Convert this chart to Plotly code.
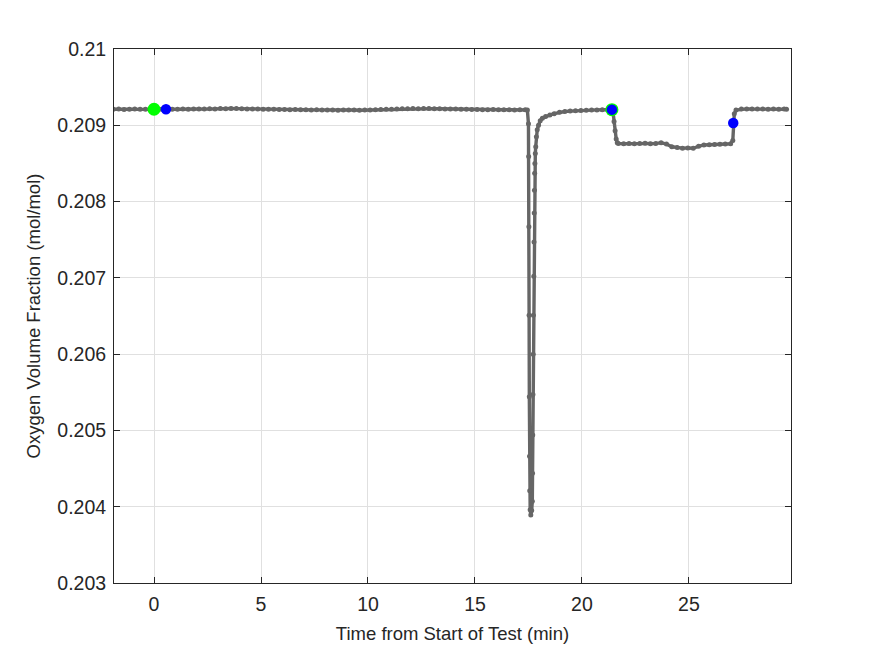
import plotly.graph_objects as go

# ---------------- data ----------------
# baseline before the dip (time in min, O2 volume fraction in mol/mol)
t_pre = [-1.9, -1.65, -1.4, -1.15, -0.9, -0.65, -0.4, -0.15,
         0.1, 0.35, 0.6, 0.85, 1.1, 1.35, 1.6, 1.85,
         2.1, 2.35, 2.6, 2.85, 3.1, 3.35, 3.6, 3.85,
         4.1, 4.35, 4.6, 4.85, 5.1, 5.35, 5.6, 5.85,
         6.1, 6.35, 6.6, 6.85, 7.1, 7.35, 7.6, 7.85,
         8.1, 8.35, 8.6, 8.85, 9.1, 9.35, 9.6, 9.85,
         10.1, 10.35, 10.6, 10.85, 11.1, 11.35, 11.6, 11.85,
         12.1, 12.35, 12.6, 12.85, 13.1, 13.35, 13.6, 13.85,
         14.1, 14.35, 14.6, 14.85, 15.1, 15.35, 15.6, 15.85,
         16.1, 16.35, 16.6, 16.85, 17.1, 17.35]
o2_pre = [0.20921, 0.209212, 0.209208, 0.20921, 0.209212, 0.209209, 0.209211, 0.20921,
          0.209212, 0.20921, 0.209208, 0.209211, 0.20921, 0.209213, 0.209211, 0.209212,
          0.209214, 0.209212, 0.209216, 0.209215, 0.20922, 0.209218, 0.209221, 0.209219,
          0.209217, 0.209214, 0.209212, 0.209213, 0.20921, 0.209211, 0.209209, 0.209208,
          0.209207, 0.209205, 0.209206, 0.209204, 0.209203, 0.209202, 0.209203, 0.2092,
          0.209199, 0.209201, 0.209198, 0.2092, 0.209199, 0.209201, 0.209198, 0.2092,
          0.209201, 0.209204, 0.209206, 0.209209, 0.209211, 0.209214, 0.209216, 0.209217,
          0.209219, 0.209218, 0.20922, 0.209219, 0.209218, 0.209217, 0.209215, 0.209214,
          0.209212, 0.20921, 0.209209, 0.209207, 0.209206, 0.209205, 0.209204, 0.209206,
          0.209205, 0.209203, 0.209204, 0.209202, 0.209203, 0.209205]

# dip and recovery
t_dip = [17.45, 17.50, 17.51, 17.52, 17.53, 17.54, 17.55, 17.56, 17.58, 17.61,
         17.65, 17.68, 17.69, 17.70, 17.71, 17.72, 17.73, 17.75, 17.76, 17.77,
         17.78, 17.79, 17.80, 17.82, 17.84, 17.87, 17.91, 17.97, 18.05, 18.15,
         18.3, 18.5, 18.7, 18.95, 19.2, 19.45, 19.7, 19.95, 20.2, 20.45,
         20.7, 20.95, 21.2, 21.4]
o2_dip = [0.20920, 0.20902, 0.20859, 0.20767, 0.20651, 0.20544, 0.20466, 0.20421, 0.20396, 0.20389,
          0.20395, 0.20407, 0.20444, 0.20494, 0.20547, 0.20600, 0.20651, 0.20702, 0.20747, 0.20785,
          0.20815, 0.20837, 0.20850, 0.20863, 0.20872, 0.20885, 0.20894, 0.20900, 0.20906, 0.209092,
          0.209115, 0.209135, 0.209152, 0.20917, 0.20918, 0.209186, 0.209191, 0.209195, 0.209198, 0.2092,
          0.209202, 0.209203, 0.209204, 0.209205]

# lowered plateau
t_low = [21.45, 21.5, 21.55, 21.6, 21.65, 21.7, 21.95, 22.2, 22.45, 22.7,
         22.95, 23.2, 23.45, 23.7, 23.95, 24.2, 24.45, 24.7, 24.95, 25.2,
         25.45, 25.7, 25.95, 26.2, 26.45, 26.7, 26.95, 27.05, 27.08, 27.12, 27.2]
o2_low = [0.20918, 0.20905, 0.20893, 0.20882, 0.20877, 0.208762, 0.208758, 0.208762, 0.208757, 0.20876,
          0.208763, 0.208758, 0.20876, 0.208772, 0.208755, 0.208718, 0.208708, 0.2087, 0.208703, 0.208699,
          0.208725, 0.208742, 0.208745, 0.208748, 0.208752, 0.208755, 0.208758, 0.20880, 0.20903, 0.20915, 0.20920]

# final baseline
t_post = [27.45, 27.7, 27.95, 28.2, 28.45, 28.7, 28.95, 29.2, 29.45, 29.56]
o2_post = [0.209212, 0.209215, 0.209213, 0.209212, 0.209214, 0.209211, 0.209213, 0.20921, 0.209212, 0.20921]

# event markers
green_t = [0.0, 21.4]
green_o2 = [0.20921, 0.209205]
blue_t = [0.56, 21.4, 27.07]
blue_o2 = [0.20921, 0.209205, 0.20903]

x_ticks = [0, 5, 10, 15, 20, 25]
y_ticks = [0.203, 0.204, 0.205, 0.206, 0.207, 0.208, 0.209, 0.21]
y_tick_text = ["0.203", "0.204", "0.205", "0.206", "0.207", "0.208", "0.209", "0.21"]

# ---------------- figure ----------------
t_all = t_pre + t_dip + t_low + t_post
o2_all = o2_pre + o2_dip + o2_low + o2_post

axis_col = "#262626"
font_fam = "Liberation Sans, Arial, Helvetica, sans-serif"

fig = go.Figure()
fig.add_trace(go.Scatter(
    x=t_all, y=o2_all, mode="lines+markers",
    line=dict(color="#666666", width=3.4),
    marker=dict(color="#666666", size=5),
    showlegend=False, hoverinfo="skip"))
fig.add_trace(go.Scatter(
    x=green_t, y=green_o2, mode="markers",
    marker=dict(color="#00ff00", size=13, line=dict(width=0)),
    showlegend=False))
fig.add_trace(go.Scatter(
    x=blue_t, y=blue_o2, mode="markers",
    marker=dict(color="#0000ff", size=10.5, line=dict(width=0)),
    showlegend=False))

common = dict(
    showline=True, linecolor=axis_col, linewidth=1, mirror="ticks",
    ticks="inside", ticklen=6, tickcolor=axis_col, tickwidth=1,
    showgrid=True, gridcolor="#e0e0e0", gridwidth=1,
    zeroline=False,
    tickfont=dict(family=font_fam, size=19.5, color=axis_col),
)

fig.update_xaxes(
    range=[-1.87, 29.77], tickvals=x_ticks, ticklabelstandoff=4,
    title=dict(text="Time from Start of Test (min)",
               font=dict(family=font_fam, size=18.5, color=axis_col), standoff=12),
    **common)
fig.update_yaxes(
    range=[0.203, 0.21], tickvals=y_ticks, ticktext=y_tick_text, ticklabelstandoff=3,
    title=dict(text="Oxygen Volume Fraction (mol/mol)",
               font=dict(family=font_fam, size=18.5, color=axis_col), standoff=11),
    **common)

fig.update_layout(
    width=875, height=656,
    margin=dict(l=114, r=84, t=49, b=73, pad=0),
    paper_bgcolor="white", plot_bgcolor="white",
    font=dict(family=font_fam, color=axis_col),
)

fig.write_html("out.html")
